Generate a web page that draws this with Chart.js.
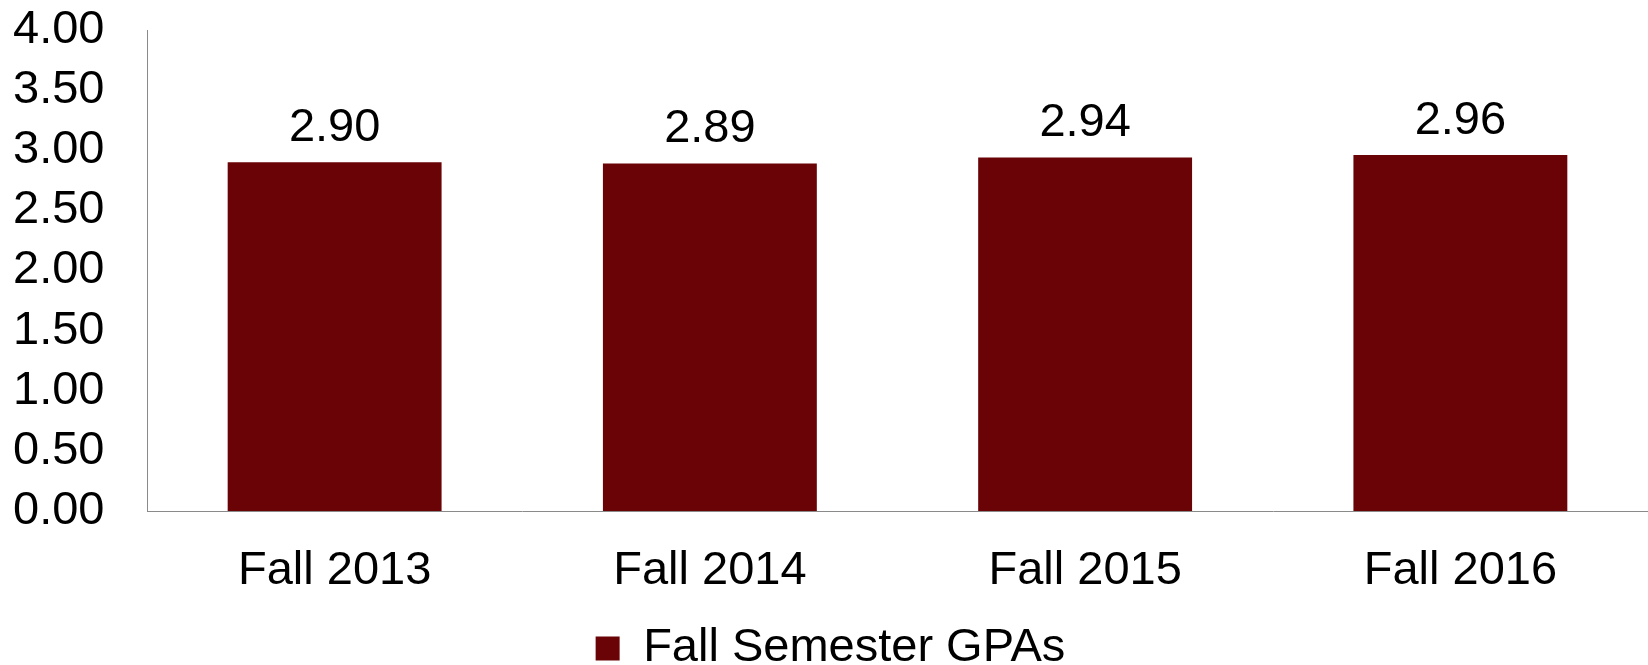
<!DOCTYPE html>
<html>
<head>
<meta charset="utf-8">
<script src="https://cdn.jsdelivr.net/npm/chart.js@4/dist/chart.umd.min.js"></script>
<style>
  html, body { margin: 0; padding: 0; background: #fff; }
  #wrap { width: 1648px; height: 665px; }
</style>
</head>
<body>
<div id="wrap"><canvas id="gpaChart" width="1648" height="665"></canvas></div>
<script>
// data
const semesters = ['Fall 2013', 'Fall 2014', 'Fall 2015', 'Fall 2016'];
const gpas = [2.90, 2.89, 2.94, 2.96];
const seriesName = 'Fall Semester GPAs';

const barColor = '#690305';
const axisColor = '#8a8a8a';
const FONT = 'Liberation Sans, Arial, sans-serif';

// value labels above the bars
const valueLabels = {
  id: 'valueLabels',
  afterDatasetsDraw(chart) {
    const ctx = chart.ctx;
    const meta = chart.getDatasetMeta(0);
    ctx.save();
    ctx.font = '47px ' + FONT;
    ctx.fillStyle = '#000';
    ctx.textAlign = 'center';
    ctx.textBaseline = 'alphabetic';
    meta.data.forEach((bar, i) => {
      ctx.fillText(gpas[i].toFixed(2), bar.x, bar.y - 21);
    });
    ctx.restore();
  }
};

new Chart(document.getElementById('gpaChart'), {
  type: 'bar',
  data: {
    labels: semesters,
    datasets: [{
      label: seriesName,
      data: gpas,
      backgroundColor: barColor,
      barPercentage: 0.57,
      categoryPercentage: 1.0
    }]
  },
  options: {
    responsive: false,
    animation: false,
    layout: { padding: { top: 30, right: 0, left: 13, bottom: -17 } },
    plugins: {
      legend: {
        position: 'bottom',
        labels: {
          boxWidth: 24,
          boxHeight: 24,
          color: '#000',
          padding: 0,
          font: { family: FONT, size: 47, lineHeight: 1 }
        }
      },
      tooltip: { enabled: false }
    },
    scales: {
      x: {
        afterFit(scale) { scale.height -= 7; },
        grid: { display: false, drawTicks: false },
        border: { display: true, color: axisColor, width: 1 },
        ticks: { color: '#000', padding: 37, font: { family: FONT, size: 47, lineHeight: 1 } }
      },
      y: {
        min: 0,
        max: 4,
        afterFit(scale) { scale.width = 134; },
        grid: { display: false, drawTicks: false },
        border: { display: true, color: axisColor, width: 1 },
        ticks: {
          stepSize: 0.5,
          autoSkip: false,
          crossAlign: 'far',
          color: '#000',
          padding: 0,
          font: { family: FONT, size: 47, lineHeight: 1 },
          callback: v => v.toFixed(2)
        }
      }
    }
  },
  plugins: [valueLabels]
});
</script>
</body>
</html>
